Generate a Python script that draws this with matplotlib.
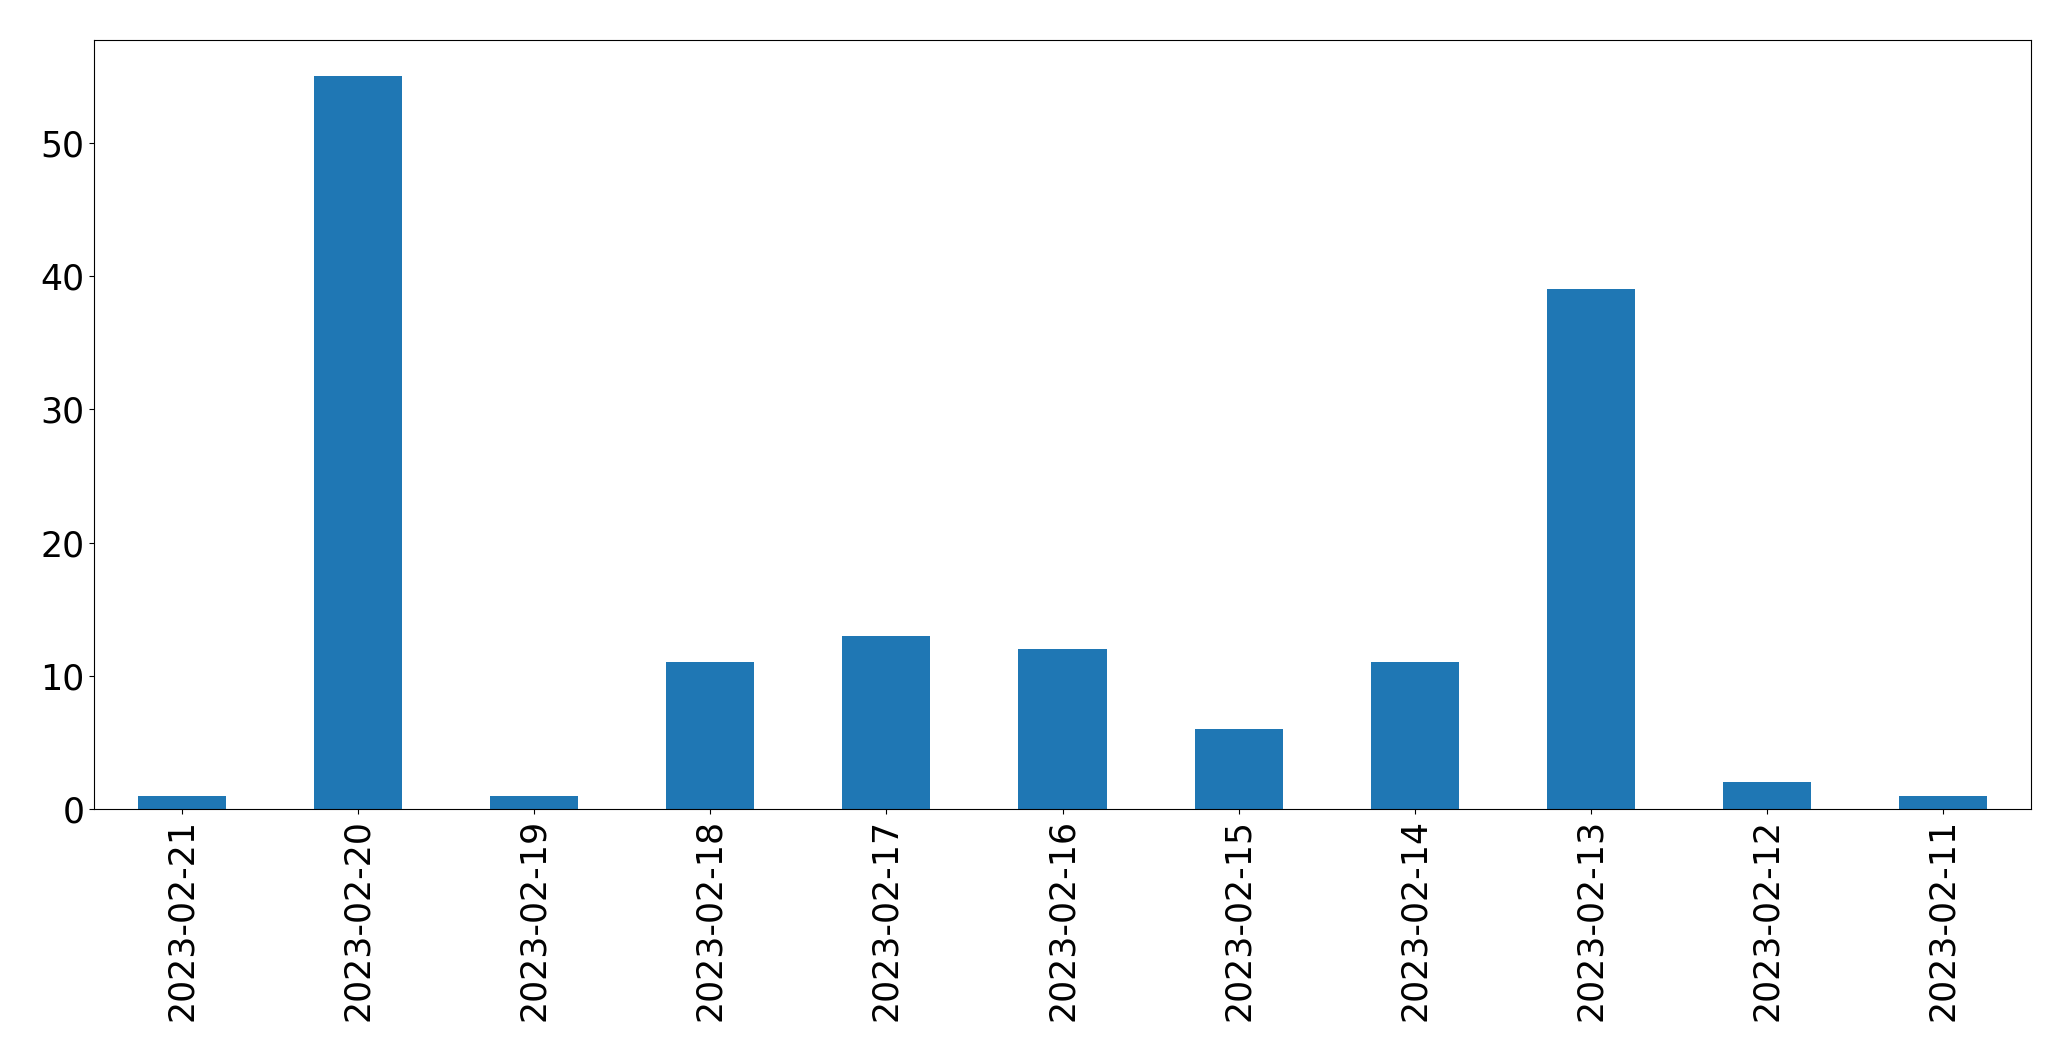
import matplotlib
matplotlib.use("Agg")
import matplotlib.pyplot as plt
import pandas as pd

dates = ["2023-02-21", "2023-02-20", "2023-02-19", "2023-02-18", "2023-02-17",
         "2023-02-16", "2023-02-15", "2023-02-14", "2023-02-13", "2023-02-12",
         "2023-02-11"]
counts = [1, 55, 1, 11, 13, 12, 6, 11, 39, 2, 1]

s = pd.Series(counts, index=dates)

fig = plt.figure(figsize=(20.71, 10.61), dpi=100)
ax = fig.add_axes([94 / 2071, 1 - 809 / 1061, (2031 - 94) / 2071, (809 - 39.5) / 1061])
s.plot(kind="bar", ax=ax, color="#1f77b4")
ax.tick_params(labelsize=25)
ax.set_xlabel("")

fig.savefig("out.png", dpi=100)
